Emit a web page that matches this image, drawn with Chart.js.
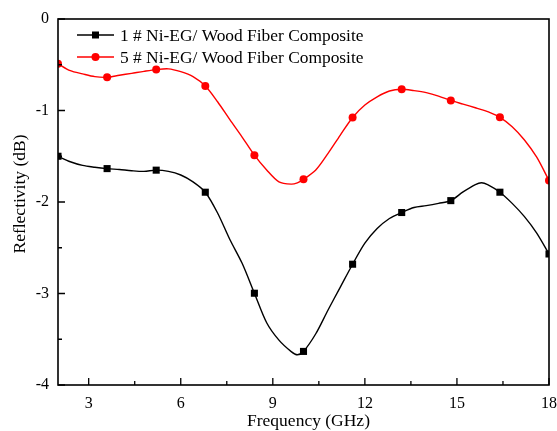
<!DOCTYPE html>
<html>
<head>
<meta charset="utf-8">
<script src="https://cdn.jsdelivr.net/npm/chart.js@4.4.0/dist/chart.umd.min.js"></script>
<style>
html,body{margin:0;padding:0;background:#fff;}
#wrap{width:557px;height:431px;position:relative;}
</style>
</head>
<body>
<div id="wrap"><canvas id="c" width="557" height="431"></canvas></div>
<script>
// ---- data ----
const freq = [2,2.4,2.8,3.2,3.6,4.0,4.4,4.8,5.2,5.6,6.0,6.4,6.8,7.2,7.6,8.0,8.4,8.8,9.2,9.6,9.8,10,10.4,10.8,11.2,11.6,12,12.4,12.8,13.2,13.6,14,14.4,14.8,15.2,15.6,15.8,16,16.4,16.8,17.2,17.6,18];
const sample1Values = [-1.50,-1.56,-1.60,-1.62,-1.635,-1.645,-1.658,-1.665,-1.652,-1.665,-1.705,-1.78,-1.893,-2.12,-2.41,-2.67,-2.997,-3.32,-3.51,-3.635,-3.67,-3.633,-3.44,-3.18,-2.93,-2.68,-2.45,-2.29,-2.18,-2.115,-2.06,-2.04,-2.015,-1.985,-1.89,-1.81,-1.79,-1.81,-1.893,-2.015,-2.16,-2.34,-2.568];
const sample5Values = [-0.49,-0.565,-0.60,-0.63,-0.637,-0.615,-0.594,-0.572,-0.553,-0.545,-0.576,-0.63,-0.732,-0.904,-1.10,-1.29,-1.488,-1.65,-1.78,-1.805,-1.79,-1.752,-1.65,-1.468,-1.268,-1.076,-0.94,-0.85,-0.787,-0.768,-0.783,-0.805,-0.842,-0.89,-0.93,-0.97,-0.99,-1.013,-1.075,-1.177,-1.322,-1.51,-1.765];
const markerFreqs = [2,3.6,5.2,6.8,8.4,10,11.6,13.2,14.8,16.4,18];
const seriesLabels = ["1 # Ni-EG/ Wood Fiber Composite", "5 # Ni-EG/ Wood Fiber Composite"];
const xTicks = [3,6,9,12,15,18];
const xMinorTicks = [4.5,7.5,10.5,13.5,16.5];
const yTicks = [0,-1,-2,-3,-4];
const yMinorTicks = [-0.5,-1.5,-2.5,-3.5];
const xTitle = "Frequency (GHz)";
const yTitle = "Reflectivity (dB)";

const FONT = "'Liberation Serif', 'Times New Roman', serif";

function toXY(vals){ return freq.map((f,i)=>({x:f,y:vals[i]})); }
function markerRadius(r){ return ctx => markerFreqs.includes(freq[ctx.dataIndex]) ? r : 0; }

const framePlugin = {
  id:'framePlugin',
  afterDraw(chart){
    const {ctx, chartArea:a, scales:{x,y}} = chart;
    ctx.save();
    ctx.strokeStyle = '#000';
    ctx.lineWidth = 1.6;
    ctx.strokeRect(a.left, a.top, a.right-a.left, a.bottom-a.top);
    ctx.lineWidth = 1.3;
    ctx.beginPath();
    xTicks.forEach(v=>{const px=x.getPixelForValue(v); ctx.moveTo(px,a.bottom); ctx.lineTo(px,a.bottom-7);});
    xMinorTicks.forEach(v=>{const px=x.getPixelForValue(v); ctx.moveTo(px,a.bottom); ctx.lineTo(px,a.bottom-4);});
    yTicks.forEach(v=>{const py=y.getPixelForValue(v); ctx.moveTo(a.left,py); ctx.lineTo(a.left+7,py);});
    yMinorTicks.forEach(v=>{const py=y.getPixelForValue(v); ctx.moveTo(a.left,py); ctx.lineTo(a.left+4,py);});
    ctx.stroke();
    // axis titles
    ctx.fillStyle = '#000';
    ctx.font = "17.5px " + FONT;
    ctx.textAlign = 'center';
    ctx.textBaseline = 'middle';
    ctx.fillText(xTitle, a.left + (a.right-a.left)/2 + 5, 421);
    ctx.save();
    ctx.translate(20, a.top + (a.bottom-a.top)/2 - 8);
    ctx.rotate(-Math.PI/2);
    ctx.fillText(yTitle, 0, 0);
    ctx.restore();
    // legend
    const rows = [35,57];
    chart.data.datasets.forEach((ds,i)=>{
      const yy = rows[i];
      ctx.strokeStyle = ds.borderColor;
      ctx.lineWidth = 1.4;
      ctx.beginPath(); ctx.moveTo(77,yy); ctx.lineTo(114,yy); ctx.stroke();
      ctx.fillStyle = ds.backgroundColor;
      if(ds.pointStyle==='rect'){ ctx.fillRect(95.5-3.5,yy-3.5,7,7); }
      else { ctx.beginPath(); ctx.arc(95.5,yy,4,0,Math.PI*2); ctx.fill(); }
      ctx.fillStyle = '#000';
      ctx.font = "17.4px " + FONT;
      ctx.textBaseline = 'middle';
      ctx.textAlign = 'left';
      ctx.fillText(ds.label, 120, yy+1);
    });
    ctx.restore();
  }
};

const bgPlugin = {
  id:'bg',
  beforeDraw(chart){ const c=chart.ctx; c.save(); c.fillStyle='#fff'; c.fillRect(0,0,chart.width,chart.height); c.restore(); }
};

new Chart(document.getElementById('c'), {
  type:'line',
  data:{
    datasets:[
      {label:seriesLabels[0], data:toXY(sample1Values), borderColor:'#000', backgroundColor:'#000',
       borderWidth:1.4, pointStyle:'rect', pointRadius:markerRadius(5), pointHoverRadius:markerRadius(5),
       pointBorderWidth:0, tension:0.3},
      {label:seriesLabels[1], data:toXY(sample5Values), borderColor:'#ff0000', backgroundColor:'#ff0000',
       borderWidth:1.4, pointStyle:'circle', pointRadius:markerRadius(4), pointHoverRadius:markerRadius(4),
       pointBorderWidth:0, tension:0.3}
    ]
  },
  options:{
    responsive:false, animation:false,
    layout:{padding:{left:0,right:8,top:19,bottom:0}},
    plugins:{legend:{display:false}, tooltip:{enabled:false}},
    scales:{
      x:{type:'linear', min:2, max:18,
         afterBuildTicks(s){ s.ticks = xTicks.map(v=>({value:v})); },
         afterFit(s){ s.height = 46; s.paddingLeft = 0; s.paddingRight = 0; },
         grid:{display:false, drawTicks:false, tickLength:0}, border:{display:false},
         ticks:{color:'#000', font:{family:FONT,size:16}, padding:9, maxRotation:0},
         title:{display:false}},
      y:{type:'linear', min:-4, max:0,
         afterBuildTicks(s){ s.ticks = yTicks.map(v=>({value:v})); },
         afterFit(s){ s.width = 58; s.paddingTop = 0; s.paddingBottom = 0; },
         grid:{display:false, drawTicks:false, tickLength:0}, border:{display:false},
         ticks:{color:'#000', font:{family:FONT,size:16}, padding:9},
         title:{display:false}}
    }
  },
  plugins:[bgPlugin, framePlugin]
});
</script>
</body>
</html>
